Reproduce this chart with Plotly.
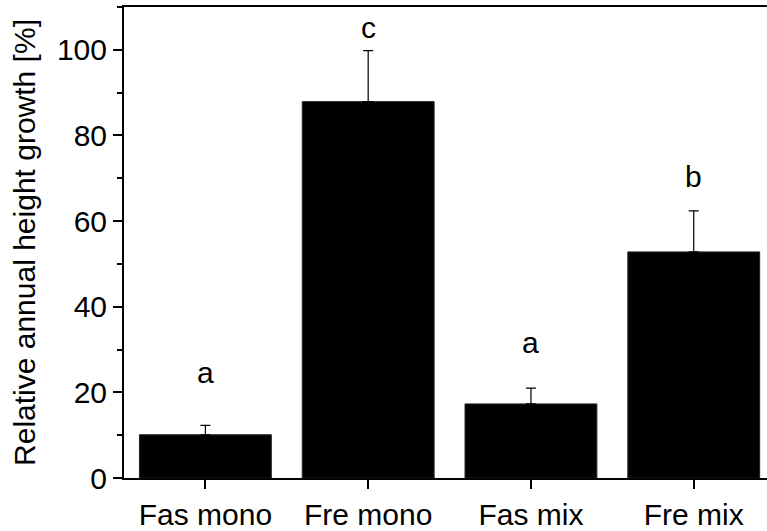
import plotly.graph_objects as go

categories = ["Fas mono", "Fre mono", "Fas mix", "Fre mix"]
values = [10.1, 87.9, 17.3, 52.8]
errors = [2.2, 11.9, 3.7, 9.6]
letters = ["a", "c", "a", "b"]
letter_y = [24.6, 105.3, 31.6, 70.5]

FONT = "Liberation Sans, Arial, sans-serif"
FS = 30

fig = go.Figure()
fig.add_trace(go.Bar(
    x=list(range(len(categories))),
    y=values,
    width=0.81,
    marker=dict(color="black", line=dict(color="#222", width=1)),
    error_y=dict(type="data", array=errors, arrayminus=[0]*len(errors), symmetric=False,
                 color="black", thickness=1.2, width=5),
    showlegend=False,
))

for i, (lt, ly) in enumerate(zip(letters, letter_y)):
    fig.add_annotation(x=i, y=ly, text=lt, showarrow=False,
                       font=dict(family=FONT, size=FS, color="black"),
                       xanchor="center", yanchor="middle")

fig.update_layout(
    width=767, height=531,
    margin=dict(l=124, r=0, t=7, b=47),
    plot_bgcolor="white", paper_bgcolor="white",
    font=dict(family=FONT, size=FS, color="black"),
    xaxis=dict(
        range=[-0.5, 3.45],
        tickmode="array", tickvals=list(range(len(categories))), ticktext=categories,
        ticks="outside", ticklen=9, tickwidth=1.5, tickcolor="black",
        showline=True, linecolor="black", linewidth=2, mirror=True,
        showgrid=False, zeroline=False,
        tickfont=dict(family=FONT, size=FS, color="black"),
    ),
    yaxis=dict(
        range=[0, 110],
        tickmode="linear", tick0=0, dtick=20,
        ticks="outside", ticklen=9, tickwidth=1.5, tickcolor="black",
        minor=dict(dtick=10, ticks="outside", ticklen=5, tickwidth=1.5, tickcolor="black"),
        showline=True, linecolor="black", linewidth=2,
        showgrid=False, zeroline=False,
        tickfont=dict(family=FONT, size=FS, color="black"),
        title=dict(text="Relative annual height growth [%]", standoff=12,
                   font=dict(family=FONT, size=FS, color="black")),
    ),
)

fig.write_html("out.html")
